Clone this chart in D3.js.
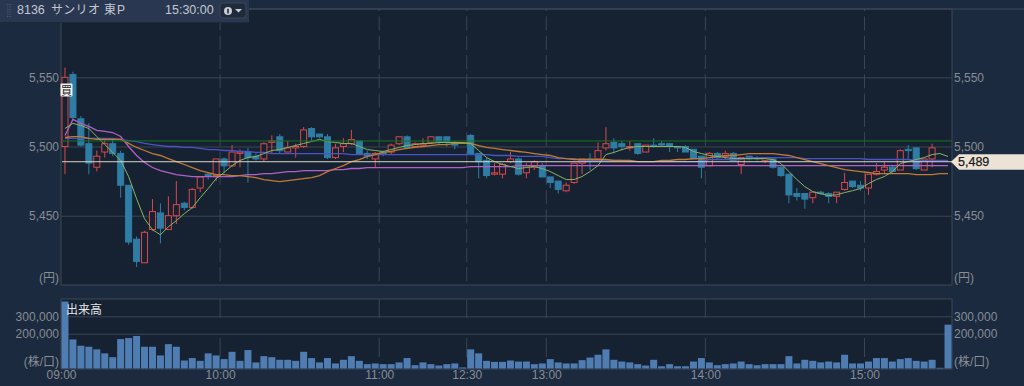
<!DOCTYPE html>
<html><head><meta charset="utf-8">
<script src="https://cdn.jsdelivr.net/npm/d3@7/dist/d3.min.js"></script>
<style>
html,body{margin:0;padding:0;background:#1b2a3f;overflow:hidden}
text{font-family:"Liberation Sans","Noto Sans CJK JP",sans-serif}
</style></head><body>
<svg id="c" width="1024" height="386"></svg>
<script>
const opens=[5500,5552,5520,5502,5485,5496,5502,5495,5472,5433,5416,5440,5452,5440,5450,5459,5456,5470,5480,5479,5491,5486,5495,5496,5493,5491,5503,5507,5496,5499,5500,5513,5509,5507,5492,5500,5502,5504,5495,5491,5496,5496,5502,5507,5500,5501,5503,5507,5507,5503,null,5508,5495,5490,5480,5480,5489,5491,5481,5485,5486,5478,5475,5468,5474,5488,5491,5491,5499,5503,5502,5499,5502,5496,5501,5502,5502,5500,5500,5498,5493,5486,5495,5493,5495,5487,5493,5492,5490,5491,5485,5480,5466,5466,5463,5467,5466,5464,5469,5475,5472,5470,5480,5483,5485,5483,5498,5499,5483,5491,null,null];
const highs=[5557,5554,5522,5517,5497,5506,5506,5497,5472,5435,5439,5462,5459,5464,5475,5460,5470,5478,5481,5491,5492,5501,5498,5499,5495,5503,5508,5509,5504,5502,5514,5514,5509,5509,5502,5506,5512,5504,5497,5496,5497,5502,5507,5508,5503,5506,5507,5507,5507,5504,null,5509,5495,5492,5488,5488,5496,5492,5488,5490,5488,5478,5475,5474,5488,5491,5495,5503,5514,5506,5504,5504,5502,5501,5506,5504,5502,5500,5501,5498,5493,5496,5496,5497,5496,5492,5493,5493,5492,5491,5485,5480,5470,5466,5467,5468,5467,5467,5481,5475,5475,5480,5488,5489,5486,5498,5501,5499,5491,5502,null,null];
const lows=[5480,5520,5500,5480,5482,5492,5493,5463,5429,5413,5416,5439,5430,5440,5444,5454,5455,5467,5476,5475,5481,5485,5485,5474,5490,5489,5495,5495,5496,5492,5499,5504,5506,5491,5491,5496,5501,5494,5491,5485,5493,5494,5501,5498,5499,5500,5502,5501,5500,5498,null,5495,5477,5477,5479,5477,5488,5479,5477,5483,5478,5470,5466,5467,5473,5480,5483,5490,5497,5495,5497,5497,5494,5496,5499,5500,5496,5496,5496,5491,5477,5486,5491,5491,5490,5480,5490,5490,5488,5484,5478,5459,5461,5455,5459,5465,5459,5459,5468,5470,5468,5465,5479,5480,5481,5483,5490,5483,5483,5485,null,null];
const closes=[5550,5521,5501,5488,5493,5502,5495,5472,5431,5417,5438,5453,5441,5450,5458,5456,5469,5478,5479,5491,5486,5496,5496,5492,5491,5502,5504,5497,5499,5500,5512,5507,5507,5492,5499,5502,5505,5495,5493,5495,5495,5501,5507,5499,5502,5502,5507,5503,5503,5501,null,5495,5489,5479,5481,5487,5491,5480,5486,5489,5478,5474,5469,5472,5488,5491,5490,5497,5502,5499,5500,5500,5495,5501,5500,5501,5500,5499,5496,5491,5485,5495,5492,5495,5490,5492,5491,5491,5492,5485,5479,5465,5464,5462,5467,5466,5464,5467,5474,5471,5470,5480,5482,5485,5482,5497,5497,5484,5491,5499,null,null];
const volumes=[385000,167000,131000,125000,110000,87000,65000,169000,175000,187000,125000,125000,75000,140000,125000,46000,60000,44000,87000,75000,54000,96000,44000,106000,35000,71000,65000,50000,50000,44000,96000,60000,35000,60000,29000,50000,71000,44000,25000,29000,25000,25000,35000,60000,19000,35000,25000,17000,25000,29000,6000,110000,87000,44000,38000,38000,46000,40000,40000,25000,29000,54000,35000,29000,29000,48000,63000,79000,110000,50000,40000,35000,25000,17000,50000,13000,25000,13000,13000,40000,60000,35000,19000,25000,29000,40000,25000,19000,25000,25000,25000,71000,29000,50000,44000,35000,40000,35000,79000,29000,29000,40000,60000,60000,40000,54000,60000,44000,40000,50000,4000,252000];
const maShort=[5513,5516.7,5515.2,5513,5507.2,5501.4,5495.7,5489.9,5478.3,5462.3,5447.8,5439.9,5436.2,5442,5446.4,5451.5,5455.8,5463,5469.6,5476.8,5481.2,5486.2,5489.9,5492,5492.8,5494.9,5497.1,5497.8,5499.3,5500.7,5502.2,5503.6,5505.1,5503.6,5502.9,5502.2,5502.2,5500,5497.8,5497.1,5496.4,5497.8,5499.3,5500.7,5501.4,5502.2,5502.2,5502.9,5502.9,5502.9,5502.9,5502.2,5497.1,5492,5489.1,5487,5485.5,5484.1,5484.8,5485.5,5484.1,5481.9,5479,5476.1,5476.1,5478.3,5481.9,5486.2,5494.2,5495.7,5497.8,5499.3,5500,5500,5500,5500,5500,5500,5499.3,5496.4,5494.9,5493.5,5492.8,5492,5491.3,5491.3,5491.3,5491.3,5491.3,5490.6,5487.7,5481.9,5476.1,5471,5467.4,5465.9,5464.5,5465.2,5466.7,5468.1,5469.6,5473.2,5476.1,5478.3,5481.9,5487.7,5489.1,5490.6,5492,5494.2,5494.9,5492.8];
const maMid=[5506.5,5507.2,5507.2,5505.8,5505.1,5505.1,5505.1,5505.1,5502.2,5499.3,5497.1,5494.9,5493.5,5491.3,5489.1,5487,5484.8,5482.6,5481.2,5479.7,5479.7,5479,5479,5478.3,5477.5,5476.1,5475.4,5474.6,5475.4,5476.1,5476.8,5477.5,5479,5481.9,5484.1,5486.2,5489.1,5490.6,5492.8,5494.2,5495.7,5496.4,5497.8,5498.6,5499.3,5500,5500.7,5501.4,5501.4,5502.2,5502.2,5502.2,5500.7,5499.3,5498.6,5497.8,5497.1,5496.4,5495.7,5494.9,5494.2,5493.5,5492,5491.3,5490.6,5490.6,5490.6,5490.6,5490.6,5489.9,5489.9,5489.9,5489.1,5489.1,5489.1,5489.9,5489.9,5490.6,5490.6,5491.3,5491.3,5492,5492.8,5493.5,5493.5,5494.2,5494.9,5494.9,5494.9,5494.9,5494.2,5493.5,5492,5490.6,5489.1,5487.7,5486.2,5484.8,5483.3,5482.6,5481.9,5481.2,5480.4,5480.4,5480.4,5480.4,5480.4,5479.7,5479.7,5479.7,5480.4,5480.4];
const vwap=[5505.8,5505.8,5505.8,5505.8,5505.8,5505.8,5505.8,5505.1,5504.3,5503.6,5502.2,5501.4,5500.7,5500,5500,5499.3,5499.3,5498.6,5497.8,5497.8,5497.1,5497.1,5496.4,5496.4,5495.7,5495.7,5494.9,5494.9,5494.9,5494.9,5494.9,5494.9,5494.9,5494.9,5494.9,5494.9,5494.2,5494.2,5494.2,5494.2,5494.2,5494.2,5494.2,5494.2,5494.2,5494.2,5494.2,5494.2,5494.2,5494.2,5494.2,5494.2,5494.2,5494.2,5493.5,5493.5,5493.5,5492.8,5492.8,5492.8,5492.8,5492,5491.3,5491.3,5491.3,5489.9,5489.9,5489.9,5489.9,5489.9,5489.9,5489.1,5489.1,5489.1,5489.1,5489.1,5489.1,5489.1,5489.1,5489.1,5489.1,5490.6,5490.6,5490.6,5490.6,5490.6,5492,5492,5492,5492,5492,5492,5492,5491.3,5491.3,5491.3,5491.3,5491.3,5491.3,5491.3,5491.3,5490.6,5490.6,5490.6,5490.6,5490.6,5490.6,5489.9,5489.9,5489.9,5489.9,5489.9];
const maLong=[5508,5519.6,5516.7,5514.5,5511.6,5510.9,5510.1,5507.2,5500,5493.5,5488.4,5484.8,5482.6,5481.2,5479.7,5479,5478.3,5478.3,5478.3,5478.3,5478.3,5478.3,5479,5479.7,5479.7,5480.4,5480.4,5481.2,5481.9,5481.9,5482.6,5482.6,5482.6,5482.6,5483.3,5483.3,5484.1,5484.1,5484.8,5484.8,5484.8,5484.8,5484.8,5484.8,5484.8,5484.8,5484.8,5484.8,5484.8,5484.8,5484.8,5485.5,5485.5,5485.5,5485.5,5485.5,5485.5,5486.2,5486.2,5486.2,5486.2,5486.2,5486.2,5486.2,5486.2,5486.2,5486.2,5486.2,5486.2,5486.2,5486.2,5486.2,5486.2,5486.2,5486.2,5486.2,5486.2,5486.2,5486.2,5486.2,5486.2,5486.2,5486.2,5486.2,5486.2,5486.2,5486.2,5486.2,5486.2,5486.2,5486.2,5486.2,5486.2,5486.2,5486.2,5486.2,5486.2,5486.2,5486.2,5486.2,5486.2,5486.2,5486.2,5486.2,5486.2,5486.2,5486.2,5486.2,5486.2,5486.2,5486.2,5486.2];
const priceTicks=[5450,5500,5550];
const volumeTicks=[200000,300000];
const sessionTicks=[0,20,40,51,61,81,101];
const sessionLabels=["09:00","10:00","11:00","12:30","13:00","14:00","15:00"];
const previousClose=5504;
const lastPrice=5489;
const buyBar=0;

const svg=d3.select("#c");
const BG="#1b2a3e",PLOT="#162231",BORDER="#3d4859",GRID="#3a4454",LABEL="#878c95";
const L=61,R=952,T=9,B=285,VT=299,VB=369;
const n=opens.length;
const x=d3.scaleLinear().domain([0,n]).range([L,R]);
const y=d3.scaleLinear().domain([5450,5550]).range([215.7,77.3]);
const v=d3.scaleLinear().domain([0,300000]).range([368.5,316.3]);
const cx=i=>x(i+0.5);

svg.append("rect").attr("width",1024).attr("height",386).attr("fill",BG);
svg.append("rect").attr("x",L).attr("y",T).attr("width",R-L).attr("height",B-T).attr("fill",PLOT).attr("stroke",BORDER);
svg.append("rect").attr("x",L).attr("y",VT).attr("width",R-L).attr("height",VB-VT).attr("fill",PLOT).attr("stroke",BORDER);

svg.append("defs").append("clipPath").attr("id","main").append("rect").attr("x",L).attr("y",T).attr("width",R-L).attr("height",B-T);
svg.select("defs").append("clipPath").attr("id","vol").append("rect").attr("x",L).attr("y",VT).attr("width",R-L).attr("height",VB-VT);

function styleAxis(g){
  g.select(".domain").remove();
  g.selectAll("text").attr("fill",LABEL).style("font-size","12px").style("font-family",'"Liberation Sans",sans-serif');
}
svg.append("g").selectAll("line").data(sessionTicks.slice(1)).join("line")
  .attr("x1",d=>x(d)).attr("x2",d=>x(d)).attr("y1",T).attr("y2",B)
  .attr("stroke",GRID).attr("stroke-dasharray","14,5.3").attr("stroke-dashoffset",11.9);
svg.append("g").selectAll("line").data(sessionTicks.slice(1)).join("line")
  .attr("x1",d=>x(d)).attr("x2",d=>x(d)).attr("y1",VT).attr("y2",VB)
  .attr("stroke",GRID).attr("stroke-dasharray","19,20");

const gl=svg.append("g").attr("transform",`translate(${L},0)`)
  .call(d3.axisLeft(y).tickValues(priceTicks).tickFormat(d3.format(",")).tickSizeInner(-(R-L)).tickSizeOuter(0).tickPadding(2));
styleAxis(gl);gl.selectAll("line").attr("stroke",GRID);
const gr=svg.append("g").attr("transform",`translate(${R},0)`)
  .call(d3.axisRight(y).tickValues(priceTicks).tickFormat(d3.format(",")).tickSize(0).tickPadding(2));
styleAxis(gr);
const vl=svg.append("g").attr("transform",`translate(${L},0)`)
  .call(d3.axisLeft(v).tickValues(volumeTicks).tickFormat(d3.format(",")).tickSizeInner(-(R-L)).tickSizeOuter(0).tickPadding(2));
styleAxis(vl);vl.selectAll("line").attr("stroke",GRID);
const vr=svg.append("g").attr("transform",`translate(${R},0)`)
  .call(d3.axisRight(v).tickValues(volumeTicks).tickFormat(d3.format(",")).tickSize(0).tickPadding(2));
styleAxis(vr);
const tx=svg.append("g").attr("transform",`translate(0,${VB})`)
  .call(d3.axisBottom(x).tickValues(sessionTicks).tickFormat((d,i)=>sessionLabels[i]).tickSize(0).tickPadding(1));
styleAxis(tx);

const main=svg.append("g").attr("clip-path","url(#main)");
const idx=d3.range(n);
const cd=idx.filter(i=>opens[i]!==null);
const UP="#d9474a",DN="#2f7da5";
const isUp=i=>closes[i]>=opens[i];
main.append("g").selectAll("line").data(cd).join("line")
  .attr("x1",cx).attr("x2",cx).attr("y1",i=>y(highs[i])).attr("y2",i=>y(lows[i]))
  .attr("stroke",i=>isUp(i)?UP:DN).attr("stroke-width",1);
main.append("g").selectAll("rect").data(cd).join("rect")
  .attr("x",i=>cx(i)-3).attr("width",6)
  .attr("y",i=>y(Math.max(opens[i],closes[i])))
  .attr("height",i=>Math.max(1,Math.abs(y(opens[i])-y(closes[i]))))
  .attr("fill",i=>isUp(i)?PLOT:DN)
  .attr("stroke",i=>isUp(i)?UP:DN).attr("stroke-width",1);

const line=a=>d3.line().x((d,i)=>cx(i)).y(d=>y(d))(a);
[[maLong,"#b25fc8",1.3],[vwap,"#4a53c4",1.3],[maMid,"#bf7a36",1.3],[maShort,"#86b565",1]].forEach(([a,c,w])=>{
  main.append("path").attr("d",line(a)).attr("fill","none").attr("stroke",c).attr("stroke-width",w);
});
main.append("line").attr("x1",L+1).attr("x2",R).attr("y1",y(previousClose)).attr("y2",y(previousClose)).attr("stroke","#12741c").attr("stroke-width",1);
main.append("line").attr("x1",L+1).attr("x2",R).attr("y1",y(lastPrice)).attr("y2",y(lastPrice)).attr("stroke","#d9d5c8").attr("stroke-width",1);

const bm=svg.append("g").attr("transform",`translate(${cx(buyBar)+1},90)`);
bm.append("rect").attr("x",-5.5).attr("y",-6.5).attr("width",12).attr("height",13).attr("fill","#f2f2f2").attr("rx",1);
bm.append("text").attr("x",0.5).attr("y",4.5).attr("text-anchor","middle").attr("font-size",11).attr("fill","#222").text("買");

const vg=svg.append("g").attr("clip-path","url(#vol)");
vg.selectAll("rect").data(volumes).join("rect")
  .attr("x",(d,i)=>cx(i)-3.5).attr("width",7)
  .attr("y",d=>v(d)).attr("height",d=>368.5-v(d))
  .attr("fill","#4f7db2");
svg.append("text").attr("x",66).attr("y",314).attr("font-size",12).attr("fill","#e4e6ea").text("出来高");

[[59,"end"],[954,"start"]].forEach(([xx,a])=>{
  svg.append("text").attr("x",xx).attr("y",282).attr("text-anchor",a).attr("font-size",12).attr("fill",LABEL).text("(円)");
  svg.append("text").attr("x",xx).attr("y",366).attr("text-anchor",a).attr("font-size",12).attr("fill",LABEL).text("(株/口)");
});

const ly=y(lastPrice);
svg.append("path").attr("d",d3.line()([[951,ly],[959,ly-7.5],[1024,ly-7.5],[1024,ly+8],[959,ly+8]])+"Z").attr("fill","#ece3d6");
svg.append("text").attr("x",958).attr("y",ly+4.5).attr("font-size",12.5).attr("fill","#1a1a1a").attr("stroke","#1a1a1a").attr("stroke-width",0.25).text(d3.format(",")(lastPrice));

svg.append("rect").attr("width",249).attr("height",23).attr("fill","#293750");
svg.append("line").attr("x1",0).attr("x2",249).attr("y1",22.5).attr("y2",22.5).attr("stroke","#1e2a3c");
svg.append("line").attr("x1",249).attr("x2",1024).attr("y1",9).attr("y2",9).attr("stroke",BORDER);
const grip=svg.append("g");
d3.range(6).forEach(r=>d3.range(3).forEach(c=>grip.append("rect").attr("x",7+c*1.6).attr("y",4+r*2.4).attr("width",1).attr("height",1).attr("fill","#4a566a")));
svg.append("text").attr("x",17).attr("y",14).attr("font-size",12.5).attr("fill","#c3c8d0").text("8136");
svg.append("text").attr("x",51).attr("y",14).attr("font-size",12).attr("fill","#c3c8d0").style("letter-spacing","0.3px").text("サンリオ");
svg.append("text").attr("x",104).attr("y",14).attr("font-size",12).attr("fill","#c3c8d0").style("letter-spacing","1px").text("東P");
svg.append("text").attr("x",165).attr("y",14).attr("font-size",12.5).attr("fill","#c3c8d0").text("15:30:00");
svg.append("rect").attr("x",220).attr("y",3).attr("width",26).attr("height",15).attr("rx",3).attr("fill","#1f2a3d").attr("stroke","#3b4658");
svg.append("circle").attr("cx",228).attr("cy",11).attr("r",4).attr("fill","#c9ccd1");
svg.append("rect").attr("x",227.2).attr("y",8.8).attr("width",1.6).attr("height",4.6).attr("fill","#1f2a3d");
svg.append("path").attr("d","M235,9h7l-3.5,3.5z").attr("fill","#c9ccd1");
</script>
</body></html>
